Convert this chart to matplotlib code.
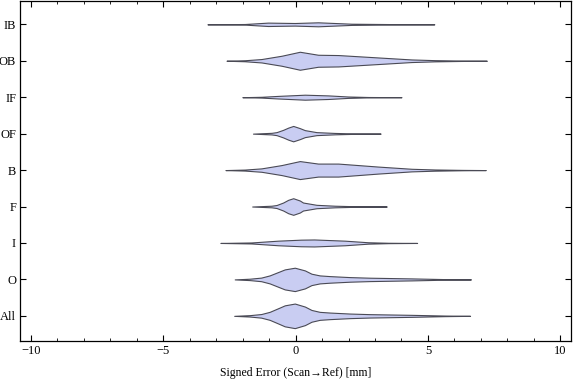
import matplotlib
matplotlib.use("Agg")
import matplotlib.pyplot as plt
from matplotlib.ticker import MultipleLocator
import numpy as np

# Category labels, top to bottom as drawn
categories = ["IB", "OB", "IF", "OF", "B", "F", "I", "O", "All"]

# Violin outlines: x = signed error [mm],
# hw = half-width in pixels at that x (converted to category units below)
ib_x = [-3.33, -1.92, -1.04, -0.03, 0.85, 2.11, 3.75, 5.24]
ib_hw = [0, 0.3, 1.7, 1.3, 2.0, 0.6, 0.2, 0]

ob_x = [-2.61, -1.92, -1.29, -0.53, 0.16, 0.85, 1.61, 3.12, 4.38, 5.26, 6.27, 7.22]
ob_hw = [0, 0.5, 1.7, 5.0, 9.0, 6.0, 5.7, 3.3, 1.3, 0.6, 0.2, 0]

if_x = [-2.01, -1.29, -0.66, 0.35, 1.23, 1.98, 2.74, 4.00]
if_hw = [0, 0.4, 1.3, 2.5, 1.8, 0.7, 0.2, 0]

of_x = [-1.61, -0.91, -0.72, -0.47, -0.28, -0.09, 0.16, 0.35, 0.79, 1.48, 2.24, 3.21]
of_hw = [0, 0.8, 1.5, 3.8, 6.0, 7.7, 5.5, 3.5, 1.5, 0.7, 0.2, 0]

b_x = [-2.65, -1.92, -1.29, -0.53, 0.16, 0.85, 1.61, 3.12, 4.38, 5.26, 6.27, 7.18]
b_hw = [0, 0.5, 1.7, 5.0, 9.0, 6.5, 6.5, 3.5, 1.3, 0.6, 0.2, 0]

f_x = [-1.64, -0.91, -0.72, -0.47, -0.28, -0.09, 0.16, 0.28, 0.79, 1.48, 2.24, 3.44]
f_hw = [0, 0.8, 1.5, 4.0, 6.7, 8.3, 6.0, 4.0, 1.7, 0.8, 0.3, 0]

i_x = [-2.84, -1.67, -0.66, 0.2, 0.7, 1.86, 2.74, 3.50, 4.59]
i_hw = [0, 0.5, 2.3, 3.3, 3.5, 2.3, 0.7, 0.2, 0]

o_x = [-2.30, -1.73, -1.30, -0.98, -0.60, -0.41, -0.03, 0.35, 0.60, 0.91,
       1.29, 2.05, 2.80, 4.38, 5.64, 6.62]
o_hw = [0, 0.7, 1.8, 4.0, 8.0, 10.0, 11.7, 9.0, 5.7, 4.0,
        3.3, 2.3, 1.7, 1.0, 0.3, 0]

all_x = [-2.32, -1.73, -1.30, -0.98, -0.60, -0.41, -0.03, 0.35, 0.60, 0.91,
         1.29, 2.05, 2.80, 4.38, 5.64, 6.59]
all_hw = [0, 0.7, 1.8, 4.0, 8.3, 10.5, 12.3, 9.3, 5.9, 4.0,
          3.3, 2.3, 1.7, 1.0, 0.3, 0]

profiles = [(ib_x, ib_hw), (ob_x, ob_hw), (if_x, if_hw), (of_x, of_hw),
            (b_x, b_hw), (f_x, f_hw), (i_x, i_hw), (o_x, o_hw), (all_x, all_hw)]

PX_PER_CAT = 36.46  # vertical pixels between neighbouring categories

plt.rcParams["font.family"] = ["Liberation Serif", "DejaVu Serif"]

fig = plt.figure(figsize=(5.76, 3.81), dpi=100)
ax = fig.add_axes([0.0352, 0.105, 0.956, 0.8924])

n = len(categories)
for k, (name, (xs, hws)) in enumerate(zip(categories, profiles)):
    pos = n - k
    xs = np.asarray(xs, dtype=float)
    hw = np.asarray(hws, dtype=float) / PX_PER_CAT
    ax.fill_between(xs, pos - hw, pos + hw, facecolor="#c9cdf2",
                    edgecolor="#4a4a55", linewidth=0.8, zorder=2)

ax.set_xlim(-10.4, 10.4)
ax.set_ylim(0.31, 9.64)
ax.set_yticks(range(n, 0, -1))
ax.set_yticklabels(categories, fontsize=9)
ax.xaxis.set_minor_locator(MultipleLocator(1))
ax.set_xticks([-10, -5, 0, 5, 10])
ax.set_xticklabels(["\u221210", "\u22125", "0", "5", "10"], fontsize=9)
ax.tick_params(axis="both", which="major", direction="in", length=4,
               width=0.8, top=True, right=True, pad=3)
ax.tick_params(axis="x", which="minor", direction="in", length=2.5,
               width=0.6, top=True)
ax.tick_params(axis="y", which="minor", left=False, right=False)
for s in ax.spines.values():
    s.set_linewidth(0.9)

ax.set_xlabel("Signed Error (Scan\u2192Ref) [mm]", fontsize=8.5, labelpad=7)

fig.savefig("out.png", dpi=100)
